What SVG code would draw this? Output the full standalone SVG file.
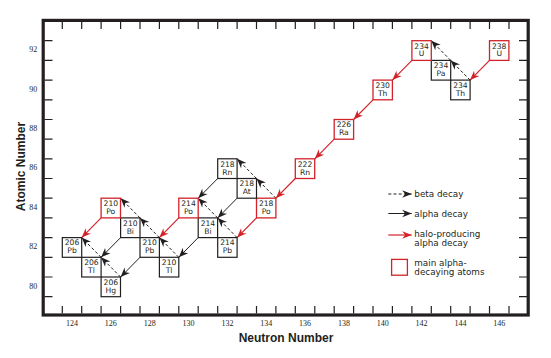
<svg xmlns="http://www.w3.org/2000/svg" width="551" height="358" viewBox="0 0 551 358">
<style>
.frame{fill:none;stroke:#231f20;stroke-width:3.2}
.tick{stroke:#231f20;stroke-width:1.2}
.tl{font-family:"Liberation Serif",serif;font-size:8px;fill:#231f20;text-anchor:middle}
.title{font-family:"Liberation Sans",Arial,sans-serif;font-size:12px;font-weight:bold;fill:#231f20;text-anchor:middle}
.box{fill:#fff;stroke:#231f20;stroke-width:1.2}
.box.red{stroke:#d2232a;stroke-width:1.3}
.nt{font-family:"DejaVu Sans",sans-serif;font-size:7.6px;fill:#231f20;text-anchor:middle}
.beta{fill:none;stroke:#231f20;stroke-width:1;stroke-dasharray:3 2.2;marker-end:url(#ahB)}
.alpha{fill:none;stroke:#231f20;stroke-width:1;marker-end:url(#ahB)}
.halo{fill:none;stroke:#d2232a;stroke-width:1.2;marker-end:url(#ahR)}
.lt{font-family:"DejaVu Sans",sans-serif;font-size:8.8px;fill:#231f20}
</style>
<defs>
<marker id="ahB" markerUnits="userSpaceOnUse" viewBox="-11 -5 12 10" refX="0" refY="0" markerWidth="12" markerHeight="10" orient="auto">
<path d="M0,0 L-9.5,-3.8 L-6.6,0 L-9.5,3.8 Z" fill="#231f20"/>
</marker>
<marker id="ahR" markerUnits="userSpaceOnUse" viewBox="-11 -5 12 10" refX="0" refY="0" markerWidth="12" markerHeight="10" orient="auto">
<path d="M0,0 L-9.5,-3.8 L-6.6,0 L-9.5,3.8 Z" fill="#d2232a"/>
</marker>
</defs>
<rect width="551" height="358" fill="#fff"/>
<g id="axes">
<rect class="frame" x="43.2" y="20.4" width="485" height="294.6"/>
<path class="tick" d="M62.3,21.5V29M81.7,21.5V29M101.1,21.5V29M120.6,21.5V29M140,21.5V29M159.4,21.5V29M178.8,21.5V29M198.2,21.5V29M217.7,21.5V29M237.1,21.5V29M256.5,21.5V29M275.9,21.5V29M295.3,21.5V29M314.8,21.5V29M334.2,21.5V29M353.6,21.5V29M373,21.5V29M392.4,21.5V29M411.9,21.5V29M431.3,21.5V29M450.7,21.5V29M470.1,21.5V29M489.5,21.5V29M509,21.5V29"/>
<path class="tick" d="M62.3,313.5V306M81.7,313.5V306M101.1,313.5V306M120.6,313.5V306M140,313.5V306M159.4,313.5V306M178.8,313.5V306M198.2,313.5V306M217.7,313.5V306M237.1,313.5V306M256.5,313.5V306M275.9,313.5V306M295.3,313.5V306M314.8,313.5V306M334.2,313.5V306M353.6,313.5V306M373,313.5V306M392.4,313.5V306M411.9,313.5V306M431.3,313.5V306M450.7,313.5V306M470.1,313.5V306M489.5,313.5V306M509,313.5V306"/>
<path class="tick" d="M44.5,40.7H52.5M44.5,60.4H52.5M44.5,80.1H52.5M44.5,99.8H52.5M44.5,119.5H52.5M44.5,139.2H52.5M44.5,158.8H52.5M44.5,178.5H52.5M44.5,198.2H52.5M44.5,217.9H52.5M44.5,237.6H52.5M44.5,257.3H52.5M44.5,277H52.5M44.5,296.7H52.5"/>
<path class="tick" d="M527,40.7H519M527,60.4H519M527,80.1H519M527,99.8H519M527,119.5H519M527,139.2H519M527,158.8H519M527,178.5H519M527,198.2H519M527,217.9H519M527,237.6H519M527,257.3H519M527,277H519M527,296.7H519"/>
<text class="tl" x="72" y="326.3">124</text>
<text class="tl" x="110.8" y="326.3">126</text>
<text class="tl" x="149.7" y="326.3">128</text>
<text class="tl" x="188.5" y="326.3">130</text>
<text class="tl" x="227.4" y="326.3">132</text>
<text class="tl" x="266.2" y="326.3">134</text>
<text class="tl" x="305" y="326.3">136</text>
<text class="tl" x="343.9" y="326.3">138</text>
<text class="tl" x="382.7" y="326.3">140</text>
<text class="tl" x="421.6" y="326.3">142</text>
<text class="tl" x="460.4" y="326.3">144</text>
<text class="tl" x="499.3" y="326.3">146</text>
<text class="tl" x="33.3" y="52.2">92</text>
<text class="tl" x="33.3" y="91.6">90</text>
<text class="tl" x="33.3" y="131">88</text>
<text class="tl" x="33.3" y="170.3">86</text>
<text class="tl" x="33.3" y="209.7">84</text>
<text class="tl" x="33.3" y="249.1">82</text>
<text class="tl" x="33.3" y="288.5">80</text>
<text class="title" x="286" y="341.5">Neutron Number</text>
<text class="title" transform="translate(24.5,166.5) rotate(-90)">Atomic Number</text>
</g>
<g id="connectors">
<path class="beta" d="M470.1,80.1L450.7,60.4"/>
<path class="beta" d="M450.7,60.4L431.3,40.7"/>
<path class="beta" d="M275.9,198.2L256.5,178.5"/>
<path class="beta" d="M256.5,178.5L237.1,158.8"/>
<path class="beta" d="M237.1,237.6L217.7,217.9"/>
<path class="beta" d="M217.7,217.9L198.2,198.2"/>
<path class="beta" d="M178.8,257.3L159.4,237.6"/>
<path class="beta" d="M159.4,237.6L140,217.9"/>
<path class="beta" d="M140,217.9L120.6,198.2"/>
<path class="beta" d="M120.6,277L101.1,257.3"/>
<path class="beta" d="M101.1,257.3L81.7,237.6"/>
<path class="halo" d="M489.5,60.4L470.1,80.1"/>
<path class="halo" d="M411.9,60.4L392.4,80.1"/>
<path class="halo" d="M373,99.8L353.6,119.5"/>
<path class="halo" d="M334.2,139.2L314.8,158.8"/>
<path class="halo" d="M295.3,178.5L275.9,198.2"/>
<path class="halo" d="M256.5,217.9L237.1,237.6"/>
<path class="halo" d="M178.8,217.9L159.4,237.6"/>
<path class="halo" d="M101.1,217.9L81.7,237.6"/>
<path class="alpha" d="M217.7,178.5L198.2,198.2"/>
<path class="alpha" d="M237.1,198.2L217.7,217.9"/>
<path class="alpha" d="M198.2,237.6L178.8,257.3"/>
<path class="alpha" d="M120.6,237.6L101.1,257.3"/>
<path class="alpha" d="M140,257.3L120.6,277"/>
</g>
<g id="n-U238"><rect class="box red" x="489.5" y="40.7" width="19.4" height="19.7"/><text class="nt" x="499.2" y="48.5">238</text><text class="nt" x="499.2" y="56.4">U</text></g>
<g id="n-Th234"><rect class="box" x="450.7" y="80.1" width="19.4" height="19.7"/><text class="nt" x="460.4" y="87.9">234</text><text class="nt" x="460.4" y="95.8">Th</text></g>
<g id="n-Pa234"><rect class="box" x="431.3" y="60.4" width="19.4" height="19.7"/><text class="nt" x="441" y="68.2">234</text><text class="nt" x="441" y="76.1">Pa</text></g>
<g id="n-U234"><rect class="box red" x="411.9" y="40.7" width="19.4" height="19.7"/><text class="nt" x="421.6" y="48.5">234</text><text class="nt" x="421.6" y="56.4">U</text></g>
<g id="n-Th230"><rect class="box red" x="373" y="80.1" width="19.4" height="19.7"/><text class="nt" x="382.7" y="87.9">230</text><text class="nt" x="382.7" y="95.8">Th</text></g>
<g id="n-Ra226"><rect class="box red" x="334.2" y="119.5" width="19.4" height="19.7"/><text class="nt" x="343.9" y="127.3">226</text><text class="nt" x="343.9" y="135.2">Ra</text></g>
<g id="n-Rn222"><rect class="box red" x="295.3" y="158.8" width="19.4" height="19.7"/><text class="nt" x="305" y="166.6">222</text><text class="nt" x="305" y="174.5">Rn</text></g>
<g id="n-Po218"><rect class="box red" x="256.5" y="198.2" width="19.4" height="19.7"/><text class="nt" x="266.2" y="206">218</text><text class="nt" x="266.2" y="213.9">Po</text></g>
<g id="n-At218"><rect class="box" x="237.1" y="178.5" width="19.4" height="19.7"/><text class="nt" x="246.8" y="186.3">218</text><text class="nt" x="246.8" y="194.2">At</text></g>
<g id="n-Rn218"><rect class="box" x="217.7" y="158.8" width="19.4" height="19.7"/><text class="nt" x="227.4" y="166.6">218</text><text class="nt" x="227.4" y="174.5">Rn</text></g>
<g id="n-Pb214"><rect class="box" x="217.7" y="237.6" width="19.4" height="19.7"/><text class="nt" x="227.4" y="245.4">214</text><text class="nt" x="227.4" y="253.3">Pb</text></g>
<g id="n-Bi214"><rect class="box" x="198.2" y="217.9" width="19.4" height="19.7"/><text class="nt" x="207.9" y="225.7">214</text><text class="nt" x="207.9" y="233.6">Bi</text></g>
<g id="n-Po214"><rect class="box red" x="178.8" y="198.2" width="19.4" height="19.7"/><text class="nt" x="188.5" y="206">214</text><text class="nt" x="188.5" y="213.9">Po</text></g>
<g id="n-Tl210"><rect class="box" x="159.4" y="257.3" width="19.4" height="19.7"/><text class="nt" x="169.1" y="265.1">210</text><text class="nt" x="169.1" y="273">Tl</text></g>
<g id="n-Pb210"><rect class="box" x="140" y="237.6" width="19.4" height="19.7"/><text class="nt" x="149.7" y="245.4">210</text><text class="nt" x="149.7" y="253.3">Pb</text></g>
<g id="n-Bi210"><rect class="box" x="120.6" y="217.9" width="19.4" height="19.7"/><text class="nt" x="130.3" y="225.7">210</text><text class="nt" x="130.3" y="233.6">Bi</text></g>
<g id="n-Po210"><rect class="box red" x="101.1" y="198.2" width="19.4" height="19.7"/><text class="nt" x="110.8" y="206">210</text><text class="nt" x="110.8" y="213.9">Po</text></g>
<g id="n-Hg206"><rect class="box" x="101.1" y="277" width="19.4" height="19.7"/><text class="nt" x="110.8" y="284.8">206</text><text class="nt" x="110.8" y="292.7">Hg</text></g>
<g id="n-Tl206"><rect class="box" x="81.7" y="257.3" width="19.4" height="19.7"/><text class="nt" x="91.4" y="265.1">206</text><text class="nt" x="91.4" y="273">Tl</text></g>
<g id="n-Pb206"><rect class="box" x="62.3" y="237.6" width="19.4" height="19.7"/><text class="nt" x="72" y="245.4">206</text><text class="nt" x="72" y="253.3">Pb</text></g>
<g id="legend">
<path class="beta" d="M388.3,194H411.7"/>
<text class="lt" x="414.3" y="197">beta decay</text>
<path class="alpha" d="M388.3,213.5H411.7"/>
<text class="lt" x="414.3" y="216.5">alpha decay</text>
<path class="halo" d="M388.3,235H411.7"/>
<text class="lt" x="414.3" y="236.5">halo-producing</text>
<text class="lt" x="414.3" y="246">alpha decay</text>
<rect class="box red" x="391.6" y="259.4" width="15.8" height="15.8"/>
<text class="lt" x="414.3" y="265.5">main alpha-</text>
<text class="lt" x="414.3" y="275.3">decaying atoms</text>
</g>
</svg>
